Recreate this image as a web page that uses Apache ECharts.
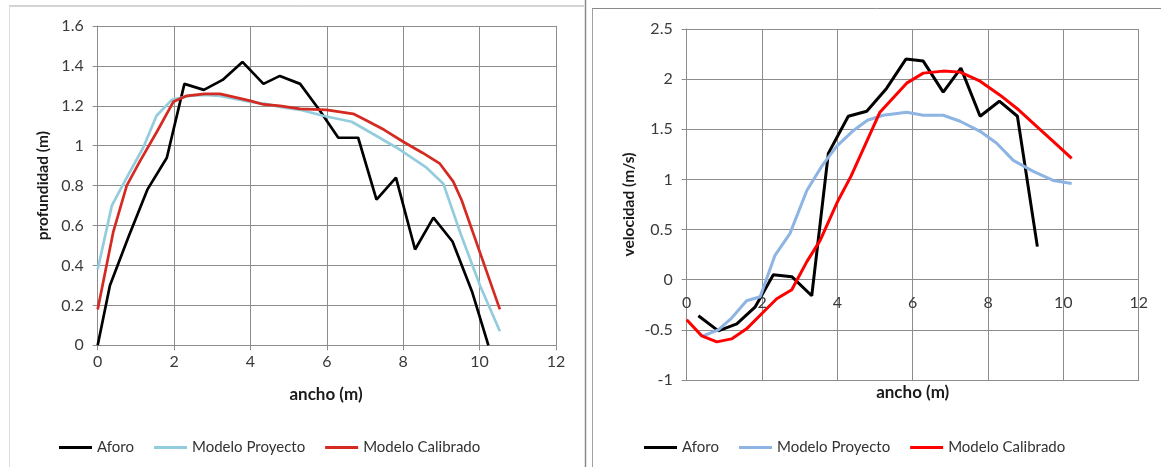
<!DOCTYPE html>
<html><head><meta charset="utf-8">
<script src="https://cdn.jsdelivr.net/npm/echarts@6/dist/echarts.min.js"></script>
<style>html,body{margin:0;padding:0;background:#fff}#c{width:1161px;height:467px}</style>
</head><body><div id="c"></div>
<script>
// ---- Left chart: profundidad ----
const aforoX_L = [0, 0.32, 0.8, 1.3, 1.81, 2.27, 2.78, 3.27, 3.79, 4.34, 4.77, 5.3, 5.8, 6.3, 6.82, 7.3, 7.81, 8.31, 8.79, 9.29, 9.8, 10.23];
const aforoY_L = [0, 0.30, 0.54, 0.78, 0.94, 1.31, 1.28, 1.33, 1.42, 1.31, 1.35, 1.31, 1.18, 1.04, 1.04, 0.73, 0.84, 0.48, 0.64, 0.52, 0.27, 0];
const projX_L = [0, 0.37, 0.76, 1.19, 1.54, 1.94, 2.4, 2.8, 3.2, 3.6, 4.0, 4.4, 4.77, 5.3, 5.9, 6.65, 7.2, 7.83, 8.61, 9.05, 9.5, 10.01, 10.53];
const projY_L = [0.38, 0.70, 0.84, 0.99, 1.15, 1.23, 1.25, 1.255, 1.25, 1.235, 1.22, 1.21, 1.195, 1.18, 1.15, 1.12, 1.06, 0.99, 0.89, 0.81, 0.56, 0.30, 0.07];
const calX_L = [0, 0.41, 0.76, 1.1, 1.55, 1.98, 2.33, 2.8, 3.2, 3.55, 4.0, 4.34, 4.77, 5.3, 5.99, 6.69, 6.95, 7.5, 8.0, 8.5, 8.96, 9.31, 9.53, 10.53];
const calY_L = [0.18, 0.57, 0.80, 0.92, 1.07, 1.22, 1.25, 1.26, 1.26, 1.245, 1.225, 1.207, 1.2, 1.185, 1.18, 1.16, 1.135, 1.08, 1.02, 0.965, 0.91, 0.82, 0.727, 0.18];

// ---- Right chart: velocidad ----
const aforoX_R = [0.31, 0.84, 1.33, 1.82, 2.3, 2.79, 3.32, 3.76, 4.29, 4.78, 5.31, 5.82, 6.28, 6.81, 7.28, 7.79, 8.3, 8.78, 9.31];
const aforoY_R = [-0.36, -0.51, -0.44, -0.27, 0.05, 0.03, -0.16, 1.26, 1.63, 1.68, 1.91, 2.20, 2.18, 1.87, 2.11, 1.63, 1.78, 1.63, 0.33];
const projX_R = [0.44, 0.84, 1.2, 1.59, 1.95, 2.34, 2.74, 3.19, 3.6, 3.98, 4.4, 4.8, 5.22, 5.84, 6.28, 6.81, 7.26, 7.79, 8.23, 8.67, 9.2, 9.73, 10.22];
const projY_R = [-0.56, -0.50, -0.38, -0.21, -0.17, 0.24, 0.46, 0.89, 1.14, 1.33, 1.48, 1.59, 1.64, 1.67, 1.64, 1.64, 1.58, 1.48, 1.36, 1.19, 1.08, 0.99, 0.96];
const calX_R = [0, 0.4, 0.8, 1.19, 1.59, 1.99, 2.39, 2.79, 3.19, 3.54, 4.02, 4.36, 4.6, 5.13, 5.84, 6.28, 6.81, 7.26, 7.79, 8.32, 8.76, 9.29, 9.73, 10.22];
const calY_R = [-0.40, -0.56, -0.62, -0.59, -0.49, -0.34, -0.19, -0.10, 0.18, 0.39, 0.79, 1.03, 1.23, 1.67, 1.96, 2.06, 2.08, 2.07, 1.98, 1.84, 1.71, 1.53, 1.38, 1.21];

const seriesNames = ['Aforo', 'Modelo Proyecto', 'Modelo Calibrado'];
const xTitle = 'ancho (m)';
const yTitleL = 'profundidad (m)';
const yTitleR = 'velocidad (m/s)';

const zip = (xs, ys) => xs.map((x, i) => [x, ys[i]]);
const FONT = 'Lato';
const colorsL = ['#000000', '#93CDDD', '#D42A22'];
const colorsR = ['#000000', '#8DB4E2', '#FF0000'];
const gridCol = '#8c8c8c';

function xAx(gi, tick, margin) {
  return {
    type: 'value', gridIndex: gi, min: 0, max: 12, interval: 2,
    axisLine: { show: true, onZero: false, lineStyle: { color: gridCol, width: 1 } },
    axisTick: { show: tick, length: 5, lineStyle: { color: gridCol } },
    splitLine: { show: true, lineStyle: { color: gridCol, width: 1 } },
    axisLabel: { fontFamily: FONT, fontSize: 16, color: '#3a3a3a', margin: margin, hideOverlap: false }
  };
}
function yAx(gi, min, max, iv, name, gap) {
  return {
    type: 'value', gridIndex: gi, min: min, max: max, interval: iv,
    name: name, nameLocation: 'middle', nameGap: gap, nameRotate: 90,
    nameTextStyle: { fontFamily: FONT, fontSize: 15.5, fontWeight: 'bold', color: '#1a1a1a' },
    axisLine: { show: true, onZero: false, lineStyle: { color: gridCol, width: 1 } },
    axisTick: { show: true, length: 5, lineStyle: { color: gridCol } },
    splitLine: { show: true, lineStyle: { color: gridCol, width: 1 } },
    axisLabel: { fontFamily: FONT, fontSize: 16, color: '#3a3a3a', margin: 14 }
  };
}
function line(name, data, color, gi, w) {
  return { type: 'line', name: name, data: data, xAxisIndex: gi, yAxisIndex: gi,
    symbol: 'none', smooth: false, lineStyle: { color: color, width: w }, itemStyle: { color: color },
    animation: false };
}
function legend(left, colors) {
  return {
    left: left, top: 435, itemWidth: 33, itemHeight: 3, itemGap: 20,
    textStyle: { fontFamily: FONT, fontSize: 15, color: '#333' },
    selectedMode: false,
    data: seriesNames.map((n, i) => ({ name: n, icon: 'rect', itemStyle: { color: colors[i] } }))
  };
}

const chart = echarts.init(document.getElementById('c'), null, { renderer: 'canvas' });
chart.setOption({
  animation: false,
  backgroundColor: '#fff',
  grid: [
    { left: 97.7, top: 26, width: 458.3, height: 319.3 },
    { left: 686.7, top: 29, width: 452, height: 351 }
  ],
  // right chart: labels sit just under the y = 0 line (axis crosses at zero, as in the reference)
  xAxis: [xAx(0, true, 9), xAx(1, false, -85)],
  yAxis: [yAx(0, 0, 1.6, 0.2, yTitleL, 47), yAx(1, -1, 2.5, 0.5, yTitleR, 50)],
  legend: [legend(54, colorsL), legend(639, colorsR)],
  series: [
    line(seriesNames[0], zip(aforoX_L, aforoY_L), colorsL[0], 0, 2.7),
    line(seriesNames[1], zip(projX_L, projY_L), colorsL[1], 0, 2.7),
    line(seriesNames[2], zip(calX_L, calY_L), colorsL[2], 0, 2.7),
    line(seriesNames[0], zip(aforoX_R, aforoY_R), colorsR[0], 1, 3),
    line(seriesNames[1], zip(projX_R, projY_R), colorsR[1], 1, 3),
    line(seriesNames[2], zip(calX_R, calY_R), colorsR[2], 1, 3)
  ],
  graphic: [
    { type: 'line', shape: { x1: 9, y1: 6, x2: 584, y2: 6 }, style: { stroke: '#a8a8a8', lineWidth: 1 } },
    { type: 'line', shape: { x1: 9.5, y1: 6, x2: 9.5, y2: 467 }, style: { stroke: '#dddddd', lineWidth: 1 } },
    { type: 'line', shape: { x1: 585.5, y1: 0, x2: 585.5, y2: 467 }, style: { stroke: '#8a8a8a', lineWidth: 1.5 } },
    { type: 'line', shape: { x1: 592.5, y1: 8, x2: 592.5, y2: 467 }, style: { stroke: '#a0a0a0', lineWidth: 1 } },
    { type: 'line', shape: { x1: 592, y1: 8.5, x2: 1161, y2: 8.5 }, style: { stroke: '#8a8a8a', lineWidth: 1 } },
    { type: 'text', x: 326, y: 395, style: { text: xTitle, font: 'bold 17px ' + FONT, fill: '#1a1a1a', align: 'center', verticalAlign: 'middle' } },
    { type: 'text', x: 912.7, y: 393, style: { text: xTitle, font: 'bold 17px ' + FONT, fill: '#1a1a1a', align: 'center', verticalAlign: 'middle' } }
  ]
});
</script></body></html>
